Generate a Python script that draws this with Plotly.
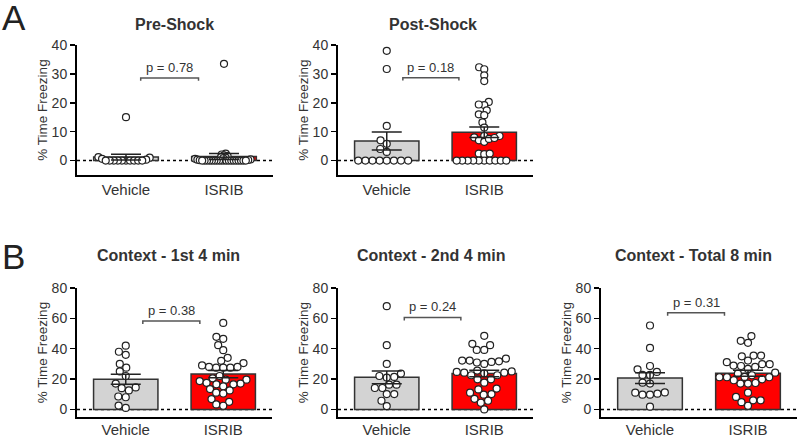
import numpy as np
import plotly.graph_objects as go

# ---------------- data ----------------
groups = ["Vehicle", "ISRIB"]

pre_vehicle = [15, 1.2, 1.0, 0.6, 0.3, 0, 0, 0, 0, 0, 0, 0, 0, 0, 0]
pre_isrib = [33.5, 2.4, 2.1, 1.8, 1.5, 1.2, 1.0, 0.8, 0.6, 0.4, 0.3, 0.2, 0.1,
             0, 0, 0, 0, 0, 0, 0, 0, 0, 0, 0, 0, 0, 0, 0, 0, 0, 0, 0]

post_vehicle = [38, 31.7, 12, 7, 5.8, 4, 3, 0, 0, 0, 0, 0, 0, 0, 0]
post_isrib = [32.3, 31.6, 29.5, 27.5, 20.3, 19.2, 19.4, 17.4, 16, 15.7, 13.2, 11.4,
              8.5, 8, 7, 6.5, 7.5, 8.5, 7.8, 2.4, 2.2, 2.4,
              0, 0, 0, 0, 0, 0, 0, 0, 0, 0]

ctx1_vehicle = [42, 38, 36, 30, 27.5, 25, 22, 17, 14.5, 14, 12.5, 8.5, 8, 1, 2.5]
ctx1_isrib = [57, 47.8, 46.5, 42.3, 39, 34, 32, 30.5, 29, 28, 27.5, 27.5, 27.5, 28,
              22, 20.5, 19.6, 19.6, 18.7, 17.5, 17, 16.5, 16.5, 15.2, 13.4, 12.5,
              11, 10.5, 6.8, 5, 3.3, 2.4]

ctx2_vehicle = [68, 42.3, 30, 23.6, 22, 21.4, 21, 16.3, 16.3, 14.1, 14.1, 10.1, 10.1, 5.7, 2.2]
ctx2_isrib = [48.5, 42.3, 39.2, 39.2, 43.2, 32.2, 31.7, 30.9, 30, 31.3, 32.2, 33.5,
              25, 24.2, 24.2, 24.7, 25.6, 22.5, 22.5, 19.8, 17.6, 19.8,
              9.7, 13.7, 11, 13.2, 10.1, 5.7, 4.4, 7, 0, 23.8]

tot_vehicle = [55.3, 40.5, 28.6, 26.4, 22.7, 22.7, 24.7, 17, 17.6, 11, 9.7, 9.7, 10.4, 11.2, 1.8]
tot_isrib = [48.3, 43.9, 45.2, 35.5, 35, 35.5, 31.1, 29.8, 28, 28.6, 29.8, 32.2, 26.7, 28.9,
             23.6, 24.2, 22.5, 21.2, 19.8, 17.4, 17, 17, 19.2, 21.2, 21.2, 11, 6, 2.4,
             4.8, 8.2, 6, 21.4]

titles = ["Pre-Shock", "Post-Shock", "Context - 1st 4 min",
          "Context - 2nd 4 min", "Context - Total 8 min"]
p_labels = ["p = 0.78", "p = 0.18", "p = 0.38", "p = 0.24", "p = 0.31"]
ticks_A = [0, 10, 20, 30, 40]
ticks_B = [0, 20, 40, 60, 80]

# ---------------- layout helpers ----------------
W, H = 798, 436
FONT = "Liberation Sans, Arial, sans-serif"


def xdom(a, b):
    return [a / W, b / W]


def ydom(top, bottom):
    return [1 - bottom / H, 1 - top / H]


panels = [
    dict(veh=pre_vehicle, isr=pre_isrib, xd=(77, 273), yd=(45, 175), yr=[-5, 40],
         ticks=ticks_A, br=(0.15, 0.74, 28.6), tick=1.0, title_xy=(174, 24), lab=0),
    dict(veh=post_vehicle, isr=post_isrib, xd=(338, 533), yd=(45, 175), yr=[-5, 40],
         ticks=ticks_A, br=(0.165, 0.74, 28.7), tick=1.0, title_xy=(433, 24), lab=0),
    dict(veh=ctx1_vehicle, isr=ctx1_isrib, xd=(77, 272), yd=(288, 417), yr=[-5, 80],
         ticks=ticks_B, br=(0.175, 0.76, 58.2), tick=2.0, title_xy=(168, 255), lab=-2),
    dict(veh=ctx2_vehicle, isr=ctx2_isrib, xd=(338, 533), yd=(288, 417), yr=[-5, 80],
         ticks=ticks_B, br=(0.18, 0.76, 60.6), tick=2.0, title_xy=(431, 255), lab=-2),
    dict(veh=tot_vehicle, isr=tot_isrib, xd=(601, 797), yd=(288, 417), yr=[-5, 80],
         ticks=ticks_B, br=(0.18, 0.76, 63.7), tick=2.0, title_xy=(693, 255), lab=-2),
]


def swarm_once(vals, sy, d):
    order = np.argsort(vals, kind="stable")
    placed = []
    xs = np.zeros(len(vals))
    for i in order:
        y = vals[i] * sy
        cands = [0.0]
        for (px, py) in placed:
            dyy = abs(py - y)
            if dyy < d:
                h = np.sqrt(d * d - dyy * dyy)
                cands += [px + h, px - h]
        cands.sort(key=lambda c: (abs(c), c))
        for c in cands:
            if all((c - px) ** 2 + (y - py) ** 2 >= d * d - 1e-6 for px, py in placed):
                xs[i] = c
                placed.append((c, y))
                break
    return xs


def swarm(vals, sy, sx, d=7.5, cap=29.0):
    """beeswarm offsets (category units); spacing shrinks until it fits the bar"""
    vals = np.asarray(vals, float)
    xs = swarm_once(vals, sy, d)
    while np.abs(xs).max() > cap and d > 1.5:
        d *= 0.95
        xs = swarm_once(vals, sy, d)
    return xs / sx


fig = go.Figure()
shapes = []
annotations = []
bar_colors = ["#d3d3d3", "#ff0000"]

for k, p in enumerate(panels):
    n = "" if k == 0 else str(k + 1)
    xa, ya = "x" + n, "y" + n
    xw = p["xd"][1] - p["xd"][0]
    yh = p["yd"][1] - p["yd"][0]
    sx = xw / 2.0                       # px per category unit (range -0.5..1.5)
    sy = yh / (p["yr"][1] - p["yr"][0])  # px per data unit

    data = [np.asarray(p["veh"], float), np.asarray(p["isr"], float)]
    means = [float(v.mean()) for v in data]
    sems = [float(v.std(ddof=1) / np.sqrt(len(v))) for v in data]

    fig.add_trace(go.Bar(
        x=[0, 1], y=means, width=0.66, xaxis=xa, yaxis=ya,
        marker=dict(color=bar_colors, line=dict(color="#333333", width=1.5)),
        showlegend=False, hoverinfo="skip"))

    for g, v in enumerate(data):
        off = swarm(v, sy, sx)
        fig.add_trace(go.Scatter(
            x=g + off, y=v, mode="markers", xaxis=xa, yaxis=ya,
            marker=dict(symbol="circle", size=7, color="white",
                        line=dict(color="#222222", width=1.2)),
            showlegend=False, hoverinfo="skip", cliponaxis=False))

    fig.add_trace(go.Scatter(
        x=[0, 1], y=means, mode="markers", xaxis=xa, yaxis=ya,
        marker=dict(size=1, color="rgba(0,0,0,0)"),
        error_y=dict(type="data", array=sems, visible=True, color="#222222",
                     thickness=1.5, width=15),
        showlegend=False, hoverinfo="skip"))

    fig.layout["xaxis" + n] = dict(
        domain=xdom(*p["xd"]), range=[-0.5, 1.5], anchor=ya, automargin=False,
        tickvals=[0, 1], ticktext=groups, showline=True, linecolor="black",
        linewidth=2, ticks="", showgrid=False, zeroline=False, fixedrange=True,
        ticklabelstandoff=p["lab"],
        tickfont=dict(size=15, color="#333333", family=FONT))
    fig.layout["yaxis" + n] = dict(
        domain=ydom(*p["yd"]), range=p["yr"], anchor=xa, automargin=False,
        tickvals=p["ticks"], showline=True, linecolor="black", linewidth=2,
        ticks="outside", ticklen=5, tickwidth=1.5, tickcolor="black",
        showgrid=False, zeroline=False, fixedrange=True,
        tickfont=dict(size=14, color="#333333", family=FONT),
        title=dict(text="% Time Freezing", standoff=1,
                   font=dict(size=13.5, color="#333333", family=FONT)))

    # dotted zero line
    shapes.append(dict(type="line", xref=xa, yref=ya, x0=-0.5, x1=1.5, y0=0, y1=0,
                       line=dict(color="black", width=1.5, dash="dot"), layer="below"))
    # p-value bracket
    bx0, bx1, by = p["br"]
    t = p["tick"]
    shapes.append(dict(type="path", xref=xa, yref=ya,
                       path=f"M {bx0},{by - t} L {bx0},{by} L {bx1},{by} L {bx1},{by - t}",
                       line=dict(color="#555555", width=1.5)))
    annotations.append(dict(xref=xa, yref=ya, x=(bx0 + bx1) / 2, y=by, yanchor="bottom",
                            yshift=1, text=p_labels[k], showarrow=False,
                            font=dict(size=13, color="#333333", family=FONT)))
    # panel title
    cx, cy = p["title_xy"]
    annotations.append(dict(xref="paper", yref="paper", x=cx / W, y=1 - cy / H,
                            xanchor="center", yanchor="middle",
                            text="<b>" + titles[k] + "</b>", showarrow=False,
                            font=dict(size=16, color="#333333", family=FONT)))

# panel letters
for letter, ly in (("A", 17), ("B", 256)):
    annotations.append(dict(xref="paper", yref="paper", x=0, y=1 - ly / H,
                            xanchor="left", yanchor="middle", text=letter, showarrow=False,
                            font=dict(size=35, color="#222222", family=FONT)))

fig.update_layout(
    template="none",
    width=W, height=H, margin=dict(l=0, r=0, t=0, b=0, pad=0), autosize=False,
    paper_bgcolor="white", plot_bgcolor="white",
    shapes=shapes, annotations=annotations, bargap=0, showlegend=False,
    hovermode=False,
    font=dict(family=FONT, color="#333333"))

fig.write_html("out.html",
               config={"displayModeBar": False, "staticPlot": True},
               post_script="document.body.style.margin='0';document.body.style.overflow='hidden';")
